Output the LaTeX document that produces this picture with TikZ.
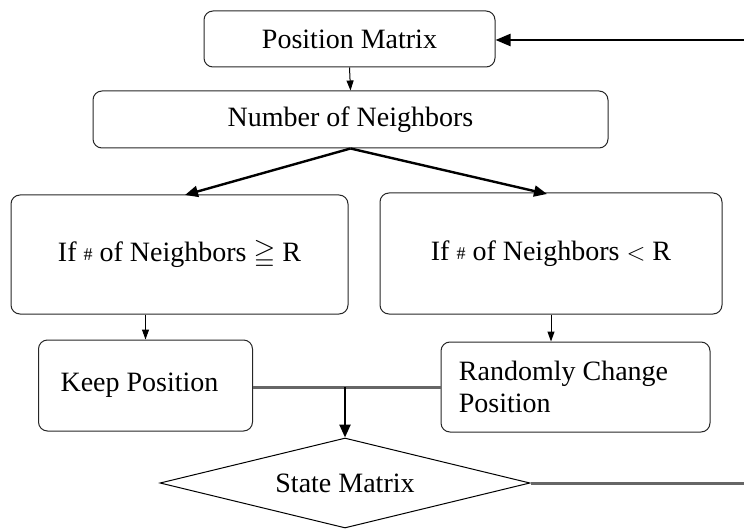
\documentclass[tikz,border=0pt]{standalone}
\usepackage{amssymb}
\usepackage{fontspec}
\setmainfont{Liberation Serif}
\usetikzlibrary{shapes.geometric,arrows.meta}
\begin{document}
\begin{tikzpicture}[x=1pt,y=-1pt,
  box/.style={draw=black!85,rounded corners=9pt,line width=1pt,inner sep=0pt,font=\fontsize{28}{32}\selectfont},
  thin/.style={-{Triangle[length=10pt,width=7pt]},line width=1pt},
  thick/.style={-{Triangle[length=13pt,width=11pt]},line width=2.4pt},
  grayline/.style={line width=3pt,draw=black!60}]
\useasboundingbox (0,0) rectangle (744,529);
\node[box,minimum width=291pt,minimum height=56pt] (pm) at (349.5,39) {Position Matrix};
\node[box,minimum width=515pt,minimum height=57pt] (nn) at (350.5,119.5) {Number of Neighbors};
\node[box,minimum width=337pt,minimum height=119pt] (ge) at (179.5,254.5) {If \raisebox{1pt}{\fontsize{18}{20}\selectfont\#} of Neighbors $\geqq$ R};
\node[box,minimum width=342pt,minimum height=121pt] (lt) at (551,253.5) {If \raisebox{1pt}{\fontsize{18}{20}\selectfont\#} of Neighbors $<$ R};
\node[box,minimum width=214pt,minimum height=91pt] (kp) at (145.5,385.5) {Keep Position\hspace*{12pt}};
\node[box,minimum width=269pt,minimum height=90pt,align=left] (rc) at (575.5,387) {Randomly Change\hspace*{24pt}\\Position};
\node[draw,diamond,shape aspect=4,inner sep=0pt,line width=1pt,minimum width=370pt,minimum height=90pt,font=\fontsize{28}{32}\selectfont] (sm) at (345,483) {State Matrix};
\coordinate (rt) at (744,40);
\coordinate (rb) at (744,483);
\coordinate (mj) at (345,387);
\draw[thin] (pm.south) -- (nn.north);
\draw[thick] (nn.south) -- (185,195);
\draw[thick] (nn.south) -- (547,194);
\draw[thin] (ge.south -| kp.north) -- (kp.north);
\draw[thin] (lt.south) -- (lt.south |- rc.north);
\draw[grayline] (kp.east |- mj) -- (rc.west |- mj);
\draw[thick] (mj) -- (sm.north);
\draw[grayline] (sm.east) -- (rb);
\draw[-{Triangle[length=15pt,width=12pt]},line width=2.2pt] (rt) -- (pm.east |- rt);
\end{tikzpicture}
\end{document}
